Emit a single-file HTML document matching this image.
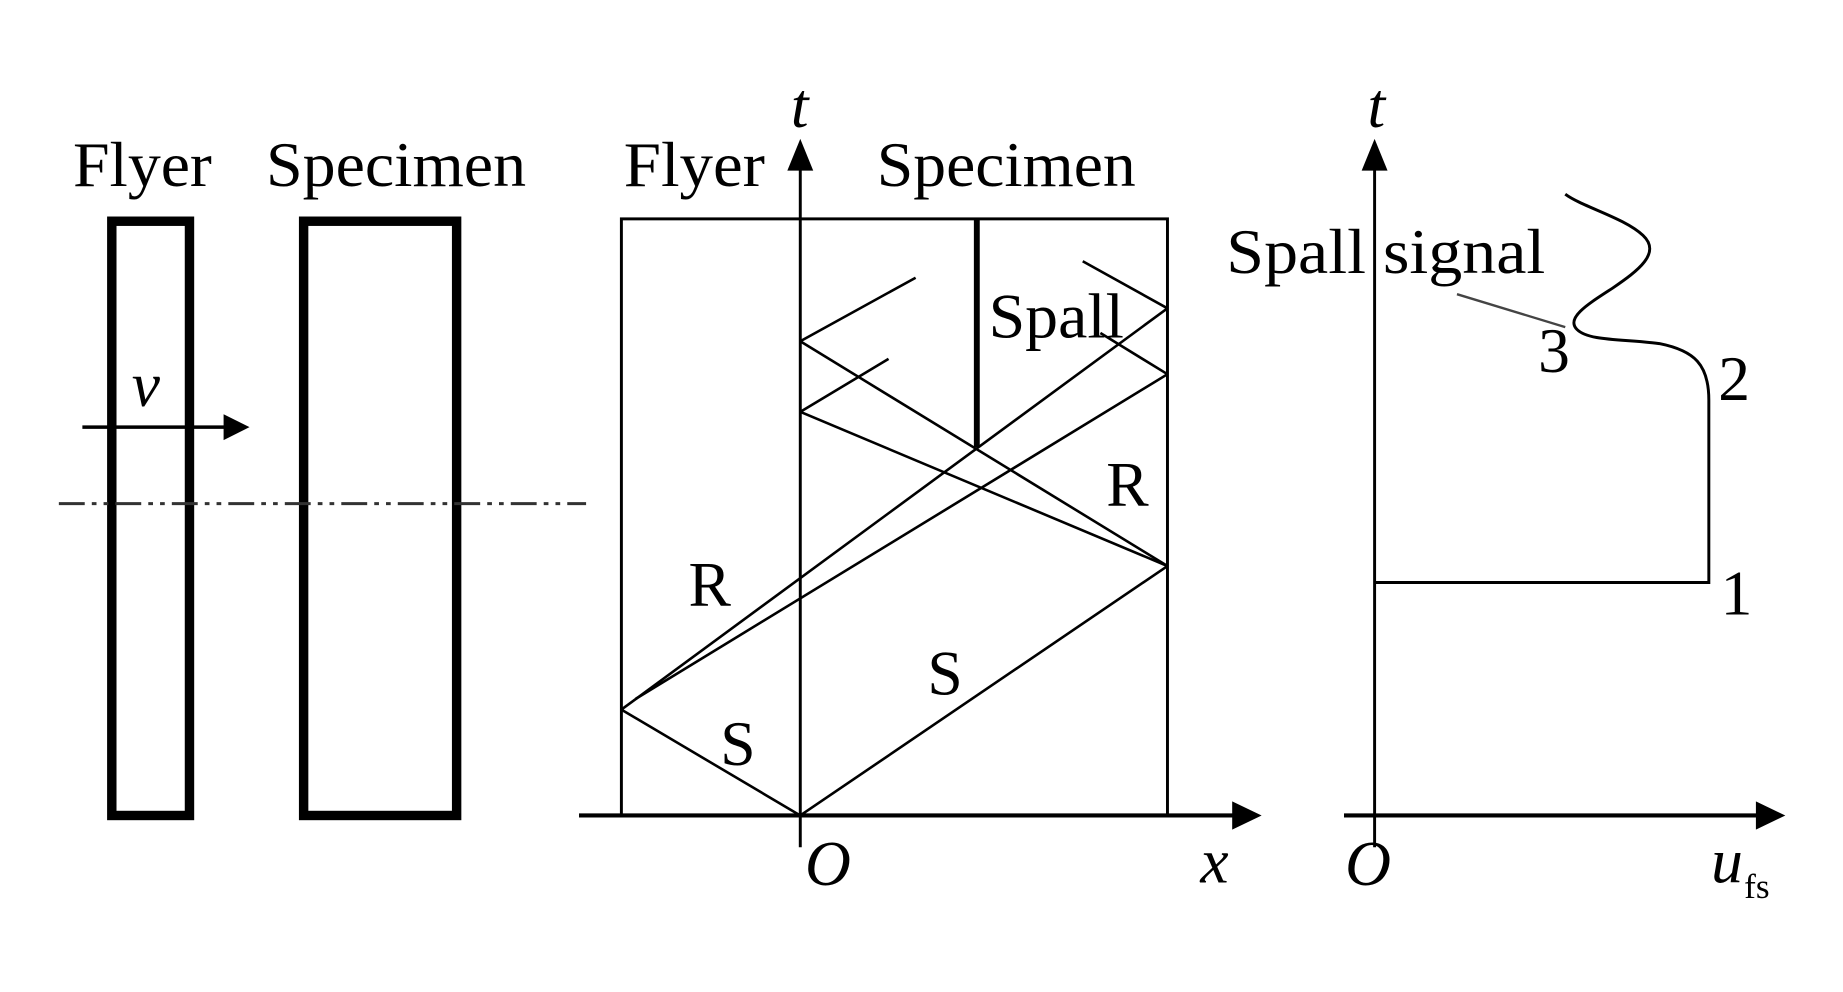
<!DOCTYPE html>
<html><head><meta charset="utf-8"><style>html,body{margin:0;padding:0;background:#fff}svg{display:block}</style></head>
<body>
<svg width="1843" height="992" viewBox="0 0 1566 843" preserveAspectRatio="none" xmlns="http://www.w3.org/2000/svg" font-family="Liberation Serif, serif" fill="#000">
<g font-size="54">
<text x="62" y="158" textLength="118" lengthAdjust="spacingAndGlyphs">Flyer</text>
<text x="226" y="158" textLength="221" lengthAdjust="spacingAndGlyphs">Specimen</text>
<text x="530" y="158" textLength="120" lengthAdjust="spacingAndGlyphs">Flyer</text>
<text x="745" y="158" textLength="220" lengthAdjust="spacingAndGlyphs">Specimen</text>
<text x="840" y="287" textLength="115" lengthAdjust="spacingAndGlyphs">Spall</text>
<text x="940" y="430">R</text>
<text x="585" y="515">R</text>
<text x="788" y="590">S</text>
<text x="612" y="650">S</text>
<text x="1042" y="232" textLength="271" lengthAdjust="spacingAndGlyphs">Spall signal</text>
<text x="1307" y="316">3</text>
<text x="1460" y="340">2</text>
<text x="1462" y="522">1</text>
<g font-style="italic">
<text x="112" y="345">v</text>
<text x="672" y="108">t</text>
<text x="1162" y="108">t</text>
<text x="684" y="752">O</text>
<text x="1020" y="750">x</text>
<text x="1143" y="752">O</text>
<text x="1454" y="750">u</text>
</g>
<text x="1482" y="763" font-size="30">fs</text>
</g>
<g fill="none" stroke="#000">
<rect x="95" y="188" width="66" height="505" stroke-width="8"/>
<rect x="258" y="188" width="130" height="505" stroke-width="8"/>
<line x1="70" y1="363" x2="195" y2="363" stroke-width="3"/>
<line x1="50" y1="428" x2="498" y2="428" stroke-width="2.5" stroke="#333" stroke-dasharray="22 6 4 6 4 6"/>
<rect x="528" y="186" width="464" height="507" stroke-width="2.5"/>
<line x1="492" y1="693" x2="1052" y2="693" stroke-width="3.5"/>
<line x1="680" y1="720" x2="680" y2="140" stroke-width="2.5"/>
<line x1="830" y1="186" x2="830" y2="380" stroke-width="5"/>
<g stroke-width="2.2">
<line x1="680" y1="693" x2="528" y2="603"/>
<line x1="680" y1="693" x2="992" y2="481"/>
<line x1="680" y1="290" x2="992" y2="481"/>
<line x1="680" y1="350" x2="992" y2="481"/>
<line x1="528" y1="603" x2="992" y2="262"/>
<line x1="540" y1="594" x2="992" y2="318"/>
<line x1="992" y1="262" x2="920" y2="222"/>
<line x1="992" y1="318" x2="935" y2="283"/>
<line x1="680" y1="290" x2="778" y2="236"/>
<line x1="680" y1="350" x2="755" y2="305"/>
</g>
<line x1="1168" y1="720" x2="1168" y2="140" stroke-width="2.5"/>
<line x1="1142" y1="693" x2="1497" y2="693" stroke-width="3.5"/>
<path d="M1168,495 L1452,495 L1452,340 C1452,310 1440,298 1410,292 C1380,288 1350,290 1340,280 C1330,270 1350,258 1370,245 C1392,230 1412,215 1396,200 C1380,185 1345,176 1330,165" stroke-width="2.5"/>
<line x1="1238" y1="250" x2="1330" y2="278" stroke-width="2" stroke="#444"/>
</g>
<polygon points="212,363 190,352 190,374"/>
<polygon points="680,118 669,145 691,145"/>
<polygon points="1168,118 1157,145 1179,145"/>
<polygon points="1072,693 1047,681 1047,705"/>
<polygon points="1517,693 1492,681 1492,705"/>
</svg>
</body></html>
